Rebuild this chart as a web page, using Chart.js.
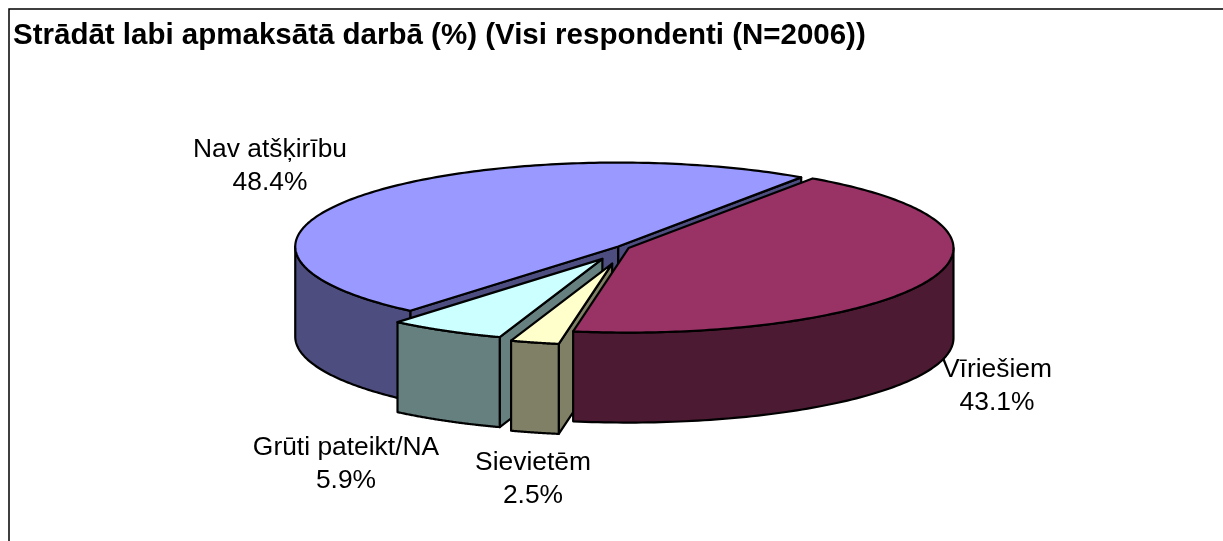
<!DOCTYPE html>
<html lang="lv">
<head>
<meta charset="utf-8">
<title>Strādāt labi apmaksātā darbā</title>
<script src="https://cdn.jsdelivr.net/npm/chart.js@4"></script>
<style>html,body{margin:0;padding:0;background:#fff;overflow:hidden}canvas{display:block}</style>
</head>
<body>
<canvas id="c" width="1223" height="541"></canvas>
<script>
const titleText = 'Strādāt labi apmaksātā darbā (%) (Visi respondenti (N=2006))';
const categories = ['Vīriešiem', 'Sievietēm', 'Grūti pateikt/NA', 'Nav atšķirību'];
const values = [43.1, 2.5, 5.9, 48.4];
const topColors = ['#993366', '#FFFFCC', '#CCFFFF', '#9999FF'];
const wallColors = ['#4D1A33', '#808066', '#668080', '#4D4D80'];
const explode = [3.7, 39.6, 31, 3.7];
const radiusScale = [1.006, 0.97, 0.985, 1];
const nudgeX = [0, 5, 4, 0];
const labelSpots = [[997, 370], [533, 463], [346, 448], [270, 150]];
const drawOrder = [3, 2, 1, 0];

const CX = 623, CY = 247.5, RX = 323, SQ = 0.26, DEPTH = 90, BASE_R = 200;
const K = RX / BASE_R;
const FONT = '"Liberation Sans", Arial, sans-serif';

function drawSlice(ctx, el, color, wall, rs, nx) {
  const off = el.options.offset * K;
  const mid = (el.startAngle + el.endAngle) / 2;
  const ax = CX + nx + off * Math.cos(mid), ay = CY + off * Math.sin(mid) * SQ;
  const r = el.outerRadius * K * rs;
  const px = a => ax + r * Math.cos(a), py = a => ay + r * Math.sin(a) * SQ;
  const s = el.startAngle, e = el.endAngle, N = 90;
  const paint = (fill) => { ctx.closePath(); ctx.fillStyle = fill; ctx.fill(); ctx.stroke(); };
  // radial faces that look toward the viewer
  const faces = [];
  if (Math.sin(s - Math.PI / 2) > 0) faces.push(s);
  if (Math.sin(e + Math.PI / 2) > 0) faces.push(e);
  for (const a of faces) {
    ctx.beginPath();
    ctx.moveTo(ax, ay); ctx.lineTo(px(a), py(a));
    ctx.lineTo(px(a), py(a) + DEPTH); ctx.lineTo(ax, ay + DEPTH);
    paint(wall);
  }
  // outer wall (front-facing part only)
  for (const shift of [0, 2 * Math.PI]) {
    const a0 = Math.max(s, shift), a1 = Math.min(e, shift + Math.PI);
    if (a1 <= a0) continue;
    ctx.beginPath();
    for (let i = 0; i <= N; i++) {
      const a = a0 + (a1 - a0) * i / N;
      i ? ctx.lineTo(px(a), py(a)) : ctx.moveTo(px(a), py(a));
    }
    for (let i = N; i >= 0; i--) {
      const a = a0 + (a1 - a0) * i / N;
      ctx.lineTo(px(a), py(a) + DEPTH);
    }
    paint(wall);
  }
  // top face
  ctx.beginPath();
  ctx.moveTo(ax, ay);
  for (let i = 0; i <= N * 2; i++) {
    const a = s + (e - s) * i / (N * 2);
    ctx.lineTo(px(a), py(a));
  }
  paint(color);
}

const pie3d = {
  id: 'pie3d',
  beforeDraw(chart) {
    const ctx = chart.ctx;
    ctx.save();
    ctx.strokeStyle = '#000'; ctx.lineWidth = 1.5;
    ctx.beginPath(); ctx.moveTo(9, 541); ctx.lineTo(9, 9); ctx.lineTo(1223, 9); ctx.stroke();
    ctx.restore();
  },
  beforeDatasetDraw(chart, args) {
    const ctx = chart.ctx, arcs = args.meta.data;
    ctx.save();
    ctx.strokeStyle = '#000'; ctx.lineWidth = 2.2; ctx.lineJoin = 'round';
    for (const i of drawOrder) drawSlice(ctx, arcs[i], topColors[i], wallColors[i], radiusScale[i], nudgeX[i]);
    ctx.restore();
    return false;
  },
  afterDatasetsDraw(chart) {
    const ctx = chart.ctx;
    ctx.save();
    ctx.fillStyle = '#000'; ctx.font = '26.4px ' + FONT;
    ctx.textAlign = 'center'; ctx.textBaseline = 'middle';
    categories.forEach((c, i) => {
      const [x, y] = labelSpots[i];
      ctx.fillText(c, x, y);
      ctx.fillText(values[i].toFixed(1) + '%', x, y + 33);
    });
    ctx.restore();
  }
};

new Chart(document.getElementById('c'), {
  type: 'pie',
  plugins: [pie3d],
  data: {
    labels: categories,
    datasets: [{
      data: values,
      backgroundColor: topColors,
      offset: explode,
      borderWidth: 0
    }]
  },
  options: {
    responsive: false,
    animation: false,
    rotation: 34.5,
    radius: BASE_R,
    layout: { padding: { left: 13 } },
    plugins: {
      legend: { display: false },
      tooltip: { enabled: false },
      title: {
        display: true, text: titleText, align: 'start', color: '#000',
        font: { family: FONT, size: 29.5, weight: 'bold' },
        padding: { top: 18, bottom: 10 }
      }
    }
  }
});
</script>
</body>
</html>
